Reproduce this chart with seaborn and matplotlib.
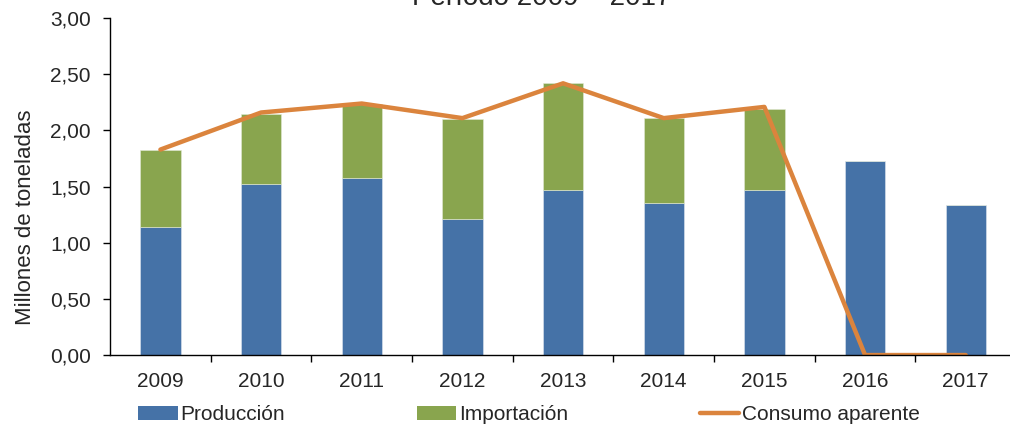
import matplotlib
matplotlib.use('Agg')
import matplotlib.pyplot as plt
import matplotlib.ticker as mticker
from matplotlib.patches import Patch
from matplotlib.lines import Line2D
import seaborn as sns
import pandas as pd

# data (millones de toneladas)
years = ['2009', '2010', '2011', '2012', '2013', '2014', '2015', '2016', '2017']
produccion = [1.14, 1.52, 1.58, 1.21, 1.47, 1.35, 1.47, 1.73, 1.34]
importacion = [0.69, 0.63, 0.66, 0.89, 0.95, 0.76, 0.72, 0.00, 0.00]
consumo = [1.83, 2.16, 2.24, 2.11, 2.42, 2.11, 2.21, 0.00, 0.00]

c_prod = '#4572A7'
c_imp = '#89A54E'
c_cons = '#DB843D'

sns.set_style('white')
plt.rcParams['font.family'] = ['Liberation Sans', 'DejaVu Sans']

df = pd.DataFrame({'anio': years, 'prod': produccion,
                   'imp': importacion, 'cons': consumo})

fig = plt.figure(figsize=(10.1, 4.33), dpi=100)
ax = fig.add_axes([0.109, 0.180, 0.897, 0.778])

sns.barplot(data=df, x='anio', y='prod', color=c_prod, saturation=1,
            width=0.4, ax=ax, edgecolor='#dfe6ef', linewidth=0.4)
sns.barplot(data=df, x='anio', y='imp', bottom=df['prod'], color=c_imp,
            saturation=1, width=0.4, ax=ax, edgecolor='#e3ead6', linewidth=0.4)
sns.lineplot(x=range(len(years)), y=df['cons'], color=c_cons, lw=3.2, ax=ax)

ax.set_xlim(-0.5, len(years) - 0.5)
ax.set_ylim(0, 3)
ax.set_yticks([0, 0.5, 1.0, 1.5, 2.0, 2.5, 3.0])
ax.yaxis.set_major_formatter(
    mticker.FuncFormatter(lambda v, p: f'{v:.2f}'.replace('.', ',')))

# x ticks: labels at centres, tick marks between categories
ax.set_xticks(range(len(years)))
ax.set_xticklabels(years)
ax.set_xticks([i + 0.5 for i in range(len(years))], minor=True)
ax.tick_params(axis='x', which='major', length=0, pad=12, labelsize=15)
ax.tick_params(axis='x', which='minor', length=5, width=1, color='black',
               direction='out', bottom=True)
ax.tick_params(axis='y', length=5, width=1, color='black', direction='out',
               left=True, pad=9, labelsize=15)

ax.set_xlabel('')
ax.set_ylabel('Millones de toneladas', fontsize=16)
ax.yaxis.set_label_coords(-0.082, 0.41)

for s in ['top', 'right']:
    ax.spines[s].set_visible(False)
for s in ['left', 'bottom']:
    ax.spines[s].set_color('black')
    ax.spines[s].set_linewidth(1)

fig.text(542 / 1010, 1 - 5 / 433, 'Período 2009 – 2017', ha='center',
         va='baseline', fontsize=20)

handles = [Patch(facecolor=c_prod, edgecolor='none'),
           Patch(facecolor=c_imp, edgecolor='none'),
           Line2D([0], [0], color=c_cons, lw=3.2)]
fig.legend(handles, ['Producción', 'Importación', 'Consumo aparente'],
           loc='center left', bbox_to_anchor=(138 / 1010, 1 - 415 / 433),
           ncol=3, frameon=False, fontsize=15, borderpad=0, borderaxespad=0,
           handlelength=1.9, handleheight=0.65, handletextpad=0.15,
           columnspacing=6.3)

fig.savefig('out.png', dpi=100)
